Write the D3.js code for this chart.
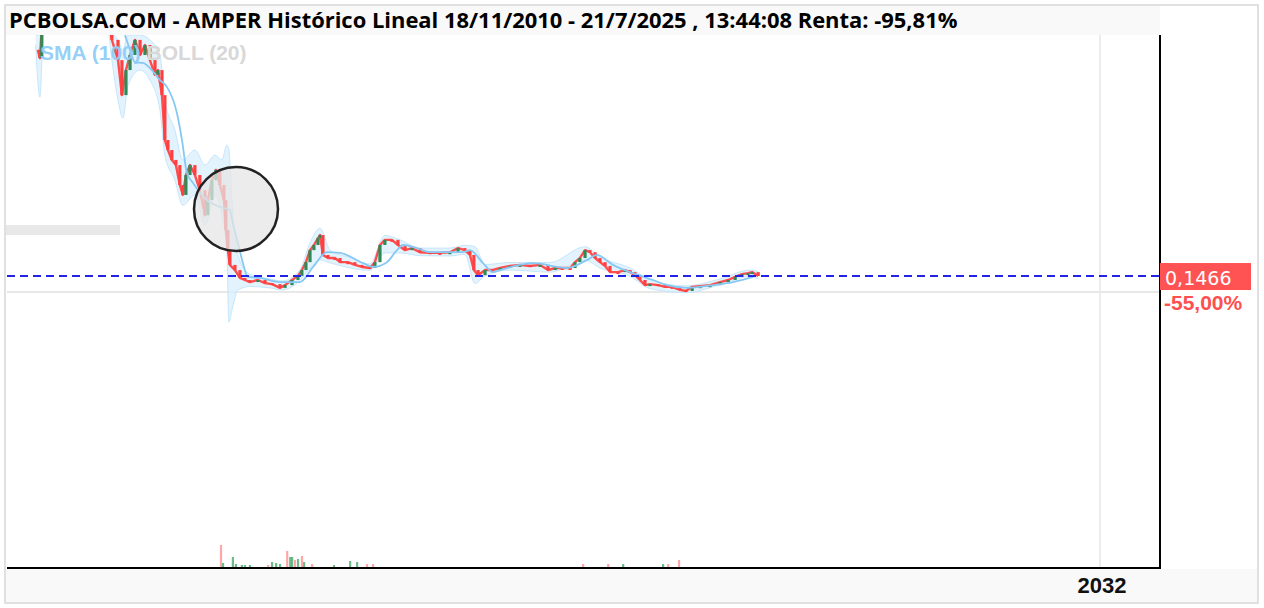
<!DOCTYPE html>
<html><head><meta charset="utf-8">
<script src="https://cdn.jsdelivr.net/npm/d3@7/dist/d3.min.js"></script>
<style>html,body{margin:0;padding:0;background:#fff;}svg{display:block;}</style>
</head><body>
<svg id="c" width="1264" height="608"></svg>
<script>
// ---------- DATA ----------
const titleText = "PCBOLSA.COM - AMPER Histórico Lineal 18/11/2010 - 21/7/2025 , 13:44:08 Renta: -95,81%";
const lastPrice = 0.1466;
const lastPriceLabel = "0,1466";
const changeLabel = "-55,00%";
const xTickLabels = ["2032"];
const xTickDates = ["2032-01-01"];
const gridPrice = [0.10];

const priceDates = ["2011-12-18","2012-01-02","2012-01-15","2012-03-10","2012-10-04","2013-03-25","2013-05-12","2013-06-23","2013-07-20","2013-08-17","2013-09-14","2013-10-18","2013-11-22","2013-12-26","2014-01-29","2014-03-05","2014-03-25","2014-04-22","2014-05-12","2014-06-02","2014-06-29","2014-07-27","2014-08-23","2014-09-13","2014-10-04","2014-11-01","2014-12-05","2015-01-08","2015-02-12","2015-03-04","2015-04-01","2015-04-28","2015-05-26","2015-06-23","2015-07-06","2015-07-20","2015-08-03","2015-09-07","2015-10-11","2015-11-14","2015-12-18","2016-02-12","2016-04-01","2016-05-19","2016-07-13","2016-08-17","2016-10-04","2016-11-14","2016-12-11","2017-01-08","2017-02-05","2017-03-04","2017-04-01","2017-04-15","2017-05-05","2017-06-09","2017-07-27","2017-08-31","2017-10-24","2017-12-11","2018-01-29","2018-03-25","2018-04-28","2018-06-02","2018-07-06","2018-08-23","2018-10-04","2018-11-22","2019-01-08","2019-03-04","2019-05-12","2019-07-20","2019-09-27","2019-11-22","2020-01-08","2020-02-12","2020-03-10","2020-04-08","2020-05-26","2020-07-13","2020-09-07","2020-11-14","2021-01-22","2021-04-01","2021-06-09","2021-08-03","2021-09-21","2021-11-08","2022-01-02","2022-02-05","2022-03-10","2022-04-15","2022-05-19","2022-06-23","2022-07-27","2022-08-31","2022-10-04","2022-11-28","2023-01-15","2023-02-19","2023-03-25","2023-04-28","2023-06-02","2023-07-06","2023-08-31","2023-10-18","2023-12-05","2024-01-29","2024-03-10","2024-04-22","2024-06-16","2024-08-23","2024-11-01","2024-12-26","2025-02-12","2025-04-01","2025-05-12","2025-06-09","2025-07-21"];
const priceClose = [0.806,0.782,0.870,0.950,1.050,0.950,0.835,0.776,0.674,0.747,0.791,0.835,0.791,0.820,0.776,0.733,0.747,0.674,0.543,0.514,0.485,0.470,0.412,0.383,0.441,0.470,0.441,0.397,0.324,0.368,0.426,0.456,0.412,0.368,0.281,0.222,0.179,0.164,0.141,0.135,0.129,0.135,0.126,0.123,0.112,0.120,0.135,0.147,0.164,0.187,0.222,0.237,0.257,0.266,0.208,0.199,0.199,0.187,0.187,0.179,0.173,0.170,0.187,0.237,0.252,0.252,0.237,0.222,0.228,0.216,0.214,0.214,0.216,0.228,0.222,0.208,0.164,0.149,0.164,0.164,0.170,0.176,0.179,0.176,0.179,0.164,0.170,0.170,0.170,0.187,0.199,0.222,0.216,0.199,0.187,0.176,0.158,0.158,0.164,0.158,0.149,0.135,0.120,0.123,0.120,0.115,0.115,0.106,0.103,0.115,0.117,0.120,0.129,0.135,0.144,0.152,0.155,0.158,0.1466];

const smaDates = ["2013-08-10","2013-09-14","2013-10-18","2013-12-12","2014-01-29","2014-04-08","2014-05-26","2014-08-03","2014-09-07","2014-10-11","2014-11-22","2015-02-26","2015-05-26","2015-08-03","2015-08-23","2015-09-27","2015-11-01","2015-12-05","2016-02-26","2016-07-13","2016-11-28","2017-02-26","2017-06-02","2017-08-31","2018-02-05","2018-04-15","2018-07-20","2018-09-27","2018-11-08","2019-02-12","2019-05-12","2019-12-26","2020-02-12","2020-05-12","2020-07-20","2020-09-07","2021-04-22","2021-12-11","2022-04-28","2022-07-06","2022-10-24","2023-03-10","2023-07-27","2023-11-01","2024-03-17","2024-09-13","2025-01-29","2025-06-16"];
const smaValues = [0.849,0.806,0.770,0.768,0.753,0.718,0.698,0.622,0.543,0.447,0.418,0.368,0.348,0.339,0.301,0.243,0.184,0.144,0.141,0.129,0.129,0.173,0.216,0.214,0.184,0.173,0.187,0.222,0.237,0.228,0.216,0.216,0.222,0.184,0.158,0.164,0.184,0.170,0.193,0.208,0.179,0.155,0.135,0.120,0.112,0.120,0.129,0.144];

const bollDates = ["2011-12-04","2011-12-18","2012-01-02","2012-01-22","2012-02-12","2013-03-25","2013-05-12","2013-06-23","2013-07-27","2013-08-31","2013-11-22","2014-01-29","2014-04-08","2014-05-12","2014-07-20","2014-09-13","2014-12-05","2015-02-12","2015-04-22","2015-06-09","2015-07-13","2015-07-27","2015-08-17","2015-09-27","2015-12-18","2016-05-05","2016-07-27","2016-11-28","2017-02-05","2017-04-15","2017-06-23","2017-11-08","2018-03-25","2018-07-06","2018-10-18","2019-03-04","2019-09-27","2020-01-08","2020-03-17","2020-05-26","2020-11-14","2021-08-17","2022-04-15","2022-07-27","2023-02-19","2023-07-06","2024-03-05","2024-11-01","2025-05-26","2025-07-21"];
const bollUpper = [0.849,0.849,0.849,0.864,1.000,1.000,0.864,0.835,0.806,0.849,0.849,0.835,0.791,0.660,0.572,0.485,0.514,0.470,0.499,0.485,0.528,0.514,0.368,0.208,0.152,0.138,0.132,0.165,0.243,0.286,0.222,0.200,0.182,0.265,0.252,0.228,0.228,0.236,0.232,0.180,0.186,0.186,0.232,0.202,0.170,0.136,0.118,0.138,0.164,0.160];
const bollLower = [0.820,0.718,0.668,0.835,0.930,0.930,0.776,0.660,0.607,0.703,0.747,0.718,0.630,0.499,0.426,0.353,0.383,0.295,0.383,0.324,0.222,0.012,0.047,0.106,0.116,0.112,0.106,0.134,0.170,0.193,0.185,0.170,0.163,0.214,0.214,0.206,0.205,0.210,0.125,0.147,0.164,0.158,0.193,0.170,0.146,0.110,0.098,0.121,0.145,0.138];

const volDates = ["2015-06-02","2015-06-16","2015-08-23","2015-09-13","2015-10-24","2015-11-14","2015-12-18","2016-04-22","2016-05-19","2016-06-16","2016-07-13","2016-08-31","2016-09-21","2016-10-04","2016-10-24","2016-11-14","2016-12-11","2016-12-26","2017-02-19","2017-07-20","2017-11-08","2017-12-26","2018-03-04","2018-04-15","2022-04-01","2022-09-21","2023-01-02","2023-10-04","2023-11-08","2024-01-22"];
const volValues = [46,10,22,8,6,6,6,6,12,10,8,34,22,22,16,18,24,12,8,6,14,12,8,8,8,8,8,8,8,16];
const volUp = [0,1,1,1,1,1,1,0,1,1,1,0,1,1,0,1,0,1,0,1,1,1,0,0,0,0,1,1,0,0];

// ---------- CHART ----------
const parse = d3.timeParse("%Y-%m-%d");
const svg = d3.select("#c");
const W = 1264, H = 608;
const plot = {l: 7, r: 1160, t: 35, b: 568};

const x = d3.scaleTime().domain([parse("2010-11-18"), parse("2032-01-01")]).range([-19.6, 1100]);
const y = d3.scaleLinear().domain([0, 0.8]).range([326.3, 51.9]);
const yv = d3.scaleLinear().domain([0, 100]).range([plot.b, plot.b - 50]);

// outer frame
svg.append("rect").attr("x", 5).attr("y", 5).attr("width", W - 11).attr("height", H - 10)
  .attr("fill", "#fff").attr("stroke", "#e0e0e0").attr("stroke-width", 2);

// title bar
svg.append("rect").attr("x", 6).attr("y", 6).attr("width", plot.r - 6).attr("height", plot.t - 6).attr("fill", "#f9f9f9");
// bottom axis band
svg.append("rect").attr("x", 6).attr("y", plot.b + 1).attr("width", W - 13).attr("height", H - 6 - plot.b - 1).attr("fill", "#f9f9f9");

// clip
svg.append("clipPath").attr("id", "pc").append("rect")
  .attr("x", plot.l).attr("y", plot.t).attr("width", plot.r - plot.l).attr("height", plot.b - plot.t);
const g = svg.append("g").attr("clip-path", "url(#pc)");

// grid lines
g.selectAll(".vg").data(xTickDates).enter().append("line")
  .attr("x1", d => x(parse(d))).attr("x2", d => x(parse(d)))
  .attr("y1", plot.t).attr("y2", plot.b).attr("stroke", "#ececec").attr("stroke-width", 2);
g.selectAll(".hg").data(gridPrice).enter().append("line")
  .attr("x1", plot.l).attr("x2", plot.r).attr("y1", d => y(d)).attr("y2", d => y(d))
  .attr("stroke", "#e8e8e8").attr("stroke-width", 2);

// gray bar (left placeholder)
svg.append("rect").attr("x", 6).attr("y", 225).attr("width", 114).attr("height", 10).attr("fill", "#e8e8e8");

// Bollinger band
const boll = bollDates.map((d, i) => ({d: parse(d), u: bollUpper[i], l: bollLower[i]}));
g.append("path").datum(boll)
  .attr("d", d3.area().x(d => x(d.d)).y0(d => y(d.l)).y1(d => y(d.u)).curve(d3.curveMonotoneX))
  .attr("fill", "#d6eefd").attr("opacity", 0.7);
g.append("path").datum(boll)
  .attr("d", d3.line().x(d => x(d.d)).y(d => y(d.u)).curve(d3.curveMonotoneX))
  .attr("fill", "none").attr("stroke", "#c6e6fb").attr("stroke-width", 1);
g.append("path").datum(boll)
  .attr("d", d3.line().x(d => x(d.d)).y(d => y(d.l)).curve(d3.curveMonotoneX))
  .attr("fill", "none").attr("stroke", "#c6e6fb").attr("stroke-width", 1);

// volume
const vol = volDates.map((d, i) => ({d: parse(d), v: volValues[i], up: volUp[i]}));
g.selectAll(".vb").data(vol).enter().append("rect")
  .attr("x", d => x(d.d) - 1).attr("width", 2.2)
  .attr("y", d => yv(d.v)).attr("height", d => plot.b - yv(d.v))
  .attr("fill", d => d.up ? "#2ea05a" : "#ff6b6b").attr("opacity", d => d.up ? 0.7 : 0.6);

// price line + candle bodies
const price = priceDates.map((d, i) => ({d: parse(d), c: priceClose[i]}));
g.append("path").datum(price)
  .attr("d", d3.line().x(d => x(d.d)).y(d => y(d.c)))
  .attr("fill", "none").attr("stroke", "#ff4c4c").attr("stroke-width", 2.4).attr("stroke-linejoin", "round");
const candles = price.slice(1).map((p, i) => ({d: p.d, o: price[i].c, c: p.c}));
g.selectAll(".cd").data(candles).enter().append("rect")
  .attr("x", d => x(d.d) - 1.6).attr("width", 3.2)
  .attr("y", d => Math.min(y(d.o), y(d.c)))
  .attr("height", d => Math.max(2, Math.abs(y(d.o) - y(d.c))))
  .attr("fill", d => d.c > d.o ? "#2e8b57" : "#ff4040");

// SMA
const sma = smaDates.map((d, i) => ({d: parse(d), v: smaValues[i]}));
g.append("path").datum(sma)
  .attr("d", d3.line().x(d => x(d.d)).y(d => y(d.v)).curve(d3.curveMonotoneX))
  .attr("fill", "none").attr("stroke", "#86c8f3").attr("stroke-width", 1.8);

// circle marker
svg.append("circle").attr("cx", 236).attr("cy", 209).attr("r", 42)
  .attr("fill", "#e6e6e6").attr("fill-opacity", 0.75).attr("stroke", "#222").attr("stroke-width", 2.5);

// last price dashed line
g.append("line").attr("x1", plot.l).attr("x2", plot.r).attr("y1", y(lastPrice)).attr("y2", y(lastPrice))
  .attr("stroke", "#2323e8").attr("stroke-width", 2).attr("stroke-dasharray", "8,5");

// axes frame lines
svg.append("line").attr("x1", plot.r).attr("x2", plot.r).attr("y1", plot.t).attr("y2", plot.b + 1)
  .attr("stroke", "#000").attr("stroke-width", 2);
svg.append("line").attr("x1", plot.l).attr("x2", plot.r + 1).attr("y1", plot.b).attr("y2", plot.b)
  .attr("stroke", "#000").attr("stroke-width", 2);

// x tick labels
svg.selectAll(".xt").data(xTickDates).enter().append("text")
  .attr("x", d => x(parse(d)) + 2).attr("y", 593).attr("text-anchor", "middle")
  .attr("font-family", "Liberation Sans, Arial, sans-serif").attr("font-weight", "bold").attr("font-size", 22)
  .attr("fill", "#111").text((d, i) => xTickLabels[i]);

// price label
svg.append("rect").attr("x", plot.r).attr("y", y(lastPrice) - 13).attr("width", 91).attr("height", 27).attr("fill", "#ff5353");
svg.append("text").attr("x", plot.r + 5).attr("y", y(lastPrice) + 9)
  .attr("font-family", "DejaVu Sans, Verdana, sans-serif").attr("font-size", 19).attr("fill", "#fff").text(lastPriceLabel);
svg.append("text").attr("x", plot.r + 4).attr("y", y(lastPrice) + 34)
  .attr("font-family", "Liberation Sans, Arial, sans-serif").attr("font-weight", "bold").attr("font-size", 21)
  .attr("fill", "#ff5050").text(changeLabel);

// legend
const leg = svg.append("text").attr("x", 40).attr("y", 60)
  .attr("font-family", "Liberation Sans, Arial, sans-serif").attr("font-weight", "bold").attr("font-size", 21);
leg.append("tspan").attr("fill", "#90cdf7").attr("fill-opacity", 0.95).text("SMA (100)");
leg.append("tspan").attr("fill", "#d8d8d8").text(" BOLL (20)");

// title
const tt = svg.append("text").attr("x", 9).attr("y", 28)
  .attr("font-family", "Open Sans, Noto Sans, sans-serif").attr("font-weight", "bold").attr("font-size", 20)
  .attr("fill", "#000").text(titleText);
const tw = tt.node().getComputedTextLength();
tt.attr("font-size", 20 * 949 / tw);
</script>
</body></html>
